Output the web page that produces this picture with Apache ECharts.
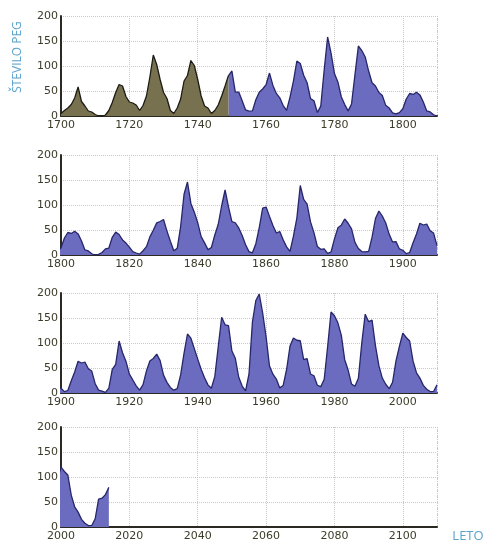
<!DOCTYPE html>
<html><head><meta charset="utf-8">
<script src="https://cdn.jsdelivr.net/npm/echarts@6/dist/echarts.min.js"></script>
<style>html,body{margin:0;padding:0;background:#fff}#c{width:486px;height:542px}</style>
</head><body><div id="c"></div>
<script>
// Yearly sunspot numbers, 1700-1749 (older reconstruction, olive)
const oliveStartYear = 1700;
const oliveValues = [5,11,16,23,36,58,29,20,10,8,3,0,0,2,11,27,47,63,60,39,
  28,26,22,11,21,40,78,122,103,73,47,35,11,5,16,34,70,81,111,101,
  73,40,20,16,5,11,22,40,60,80.9];
// Sunspot numbers 1749-2014 (blue)
const blueStartYear = 1749;
const blueValues = [80.9,90,47.7,47.8,30.7,12.2,9.6,10.2,32.4,47.6,54.0,
  62.9,85.9,61.2,45.1,36.4,20.9,11.4,37.8,69.8,110,
  105,81.6,66.5,34.8,30.6,7.0,19.8,92.5,158,125.9,
  84.8,68.1,38.5,22.8,10.2,24.1,82.9,140,130.9,118.1,
  89.9,66.6,60.0,46.9,41.0,21.3,16.0,6.4,4.1,6.8,
  14.5,34.0,45.0,43.1,47.5,42.2,28.1,10.1,8.1,2.5,
  0,1.4,5.0,12.2,13.9,35.4,45.8,41.0,30.1,23.9,
  15.6,6.6,4.0,1.8,8.5,16.6,36.3,49.6,64.2,67.0,
  70.9,47.8,27.5,8.5,13.2,56.9,121.5,146,103.2,85.7,
  64.6,36.7,24.2,10.7,15.0,40.1,61.5,98.5,130,96.3,
  66.6,64.5,54.1,39.0,20.6,6.7,4.3,22.7,54.8,93.8,
  96,77.2,59.1,44.0,47.0,30.5,16.3,7.3,37.6,74.0,
  139,111.2,101.6,66.2,44.7,17.0,11.3,12.4,3.4,6.0,
  32.3,54.3,59.7,72,63.5,52.2,25.4,13.1,6.8,6.3,
  7.1,35.6,73.0,88,78.0,64.0,41.8,26.2,26.7,12.1,
  9.5,2.7,5.0,24.4,42.0,63.5,60,62.0,48.5,43.9,
  18.6,5.7,3.6,1.4,9.6,47.4,57.1,104,80.6,63.6,
  37.6,26.1,14.2,5.8,16.7,44.3,63.9,69.0,77.8,64.9,
  35.7,21.2,11.1,5.7,8.7,36.1,79.7,118,109.6,88.8,
  67.8,47.5,30.6,16.3,9.6,33.2,92.6,151.6,136.3,134.7,
  83.9,69.4,31.5,13.9,4.4,38.0,141.7,185,198,160,
  112.3,53.9,37.6,27.9,10.2,15.1,47.0,93.8,110,105.5,
  104.5,66.6,68.9,38.0,34.5,15.5,12.6,27.5,92.5,162,
  154.6,140.4,115.9,66.6,45.9,17.9,13.4,29.4,100.2,157.6,
  142.6,145.7,94.3,54.6,29.9,17.5,8.6,21.5,64.3,93.3,
  119.6,111.0,104.0,63.7,40.4,29.8,15.2,7.5,2.9,3.1,
  16.5,55.7,57.6,64.7,79.3];
const panelStarts = [1700, 1800, 1900, 2000];
const panelSpan = 110;
const yMax = 200;
const yStep = 50;
const xStep = 20;
const yTitle = 'ŠTEVILO PEG';
const xTitle = 'LETO';

const toPairs = (start, vals) => vals.map((v, i) => [start + i, v]);
const oliveData = toPairs(oliveStartYear, oliveValues);
const blueData = toPairs(blueStartYear, blueValues);

const tops = [16, 155, 293, 427];
const grids = [], xAxes = [], yAxes = [], series = [];
const labelStyle = {color: '#3c3c2a', fontSize: 11, fontFamily: 'DejaVu Sans'};
panelStarts.forEach((s, i) => {
  grids.push({left: 61, right: 49, top: tops[i], height: 100});
  xAxes.push({type: 'value', gridIndex: i, min: s, max: s + panelSpan, interval: xStep,
    axisLine: {onZero: false, lineStyle: {color: '#2a2a22', width: 2}},
    axisTick: {show: false},
    axisLabel: Object.assign({margin: 4, showMaxLabel: false, formatter: v => String(v)}, labelStyle),
    splitLine: {show: true, lineStyle: {color: '#c9c9c9', type: 'dotted', width: 1}}});
  yAxes.push({type: 'value', gridIndex: i, min: 0, max: yMax, interval: yStep,
    axisLine: {show: true, onZero: false, lineStyle: {color: '#2a2a22', width: 2}},
    axisTick: {show: false},
    axisLabel: Object.assign({margin: 3}, labelStyle),
    splitLine: {show: true, lineStyle: {color: '#c9c9c9', type: 'dotted', width: 1}}});
  const sub = blueData.filter(p => p[0] >= s - 1 && p[0] <= s + panelSpan);
  series.push({type: 'line', xAxisIndex: i, yAxisIndex: i, data: sub, symbol: 'none',
    clip: true, lineStyle: {color: '#26266a', width: 1.3},
    areaStyle: {color: '#6b6bbf', opacity: 1}});
  if (i === 0) {
    series.push({type: 'line', xAxisIndex: 0, yAxisIndex: 0, data: oliveData, symbol: 'none',
      clip: true, lineStyle: {color: '#1c1c14', width: 1.3},
      areaStyle: {color: '#77714f', opacity: 1}});
  }
});
// right-side dotted frame lines
const frames = tops.map(t => ({type: 'line', shape: {x1: 437.5, y1: t, x2: 437.5, y2: t + 100},
  style: {stroke: '#c9c9c9', lineDash: [1, 2], lineWidth: 1}, silent: true}));

const chart = echarts.init(document.getElementById('c'), null, {renderer: 'canvas'});
chart.setOption({
  backgroundColor: '#fff',
  animation: false,
  grid: grids, xAxis: xAxes, yAxis: yAxes, series: series,
  graphic: frames.concat([
    {type: 'text', x: 18, y: 57, rotation: Math.PI / 2,
      style: {text: yTitle, fill: '#5aa3cc', fontSize: 12, fontFamily: 'Open Sans',
        textAlign: 'center', textVerticalAlign: 'middle'}},
    {type: 'text', x: 468, y: 536,
      style: {text: xTitle, fill: '#5aa3cc', fontSize: 13, fontFamily: 'Open Sans',
        textAlign: 'center', textVerticalAlign: 'middle'}}
  ])
});
</script></body></html>
